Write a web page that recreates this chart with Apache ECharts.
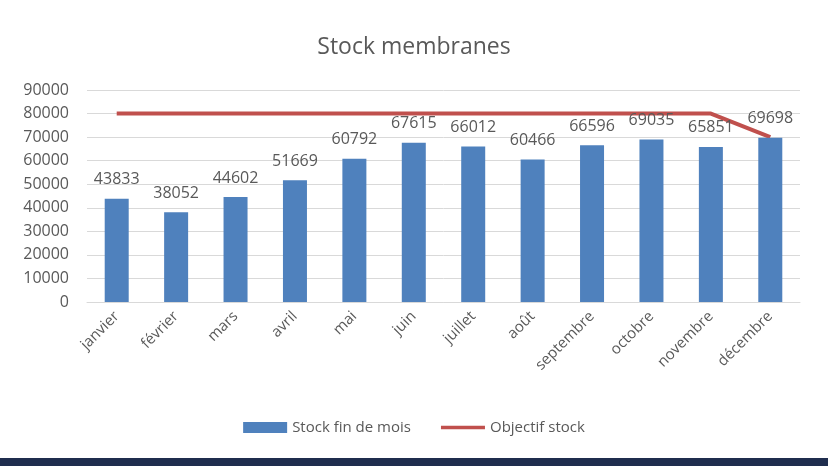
<!DOCTYPE html>
<html>
<head>
<meta charset="utf-8">
<script src="https://cdn.jsdelivr.net/npm/echarts@6/dist/echarts.min.js"></script>
<style>
  html, body { margin: 0; padding: 0; background: #fff; }
  #chart { width: 828px; height: 466px; }
</style>
</head>
<body>
<div id="chart"></div>
<script>
  // mois, stock fin de mois et objectif
  const months = ['janvier', 'février', 'mars', 'avril', 'mai', 'juin', 'juillet', 'août', 'septembre', 'octobre', 'novembre', 'décembre'];
  const stockFinMois = [43833, 38052, 44602, 51669, 60792, 67615, 66012, 60466, 66596, 69035, 65851, 69698];
  const objectifStock = [80000, 80000, 80000, 80000, 80000, 80000, 80000, 80000, 80000, 80000, 80000, 70000];

  const txt = '#595959';
  const font = 'Open Sans, sans-serif';

  let chart = echarts.init(document.getElementById('chart'));
  chart.setOption({
    animation: false,
    textStyle: { fontFamily: font },
    title: {
      text: 'Stock membranes',
      left: 'center',
      top: 31,
      textStyle: { color: txt, fontSize: 23, fontWeight: 'normal', fontFamily: font }
    },
    legend: {
      bottom: 26,
      left: 'center',
      itemGap: 30,
      itemWidth: 44,
      itemHeight: 11,
      textStyle: { color: txt, fontSize: 15 },
      data: [
        { name: 'Stock fin de mois', icon: 'rect' },
        { name: 'Objectif stock', icon: 'path://M0,4 L40,4 L40,7 L0,7 Z', itemStyle: { color: '#c0504d' } }
      ]
    },
    grid: { left: 87, right: 28, top: 90, bottom: 164 },
    xAxis: {
      type: 'category',
      data: months,
      axisTick: { show: false },
      axisLine: { lineStyle: { color: '#d9d9d9' } },
      axisLabel: { color: txt, fontSize: 15, rotate: 45, margin: 12, interval: 0 }
    },
    yAxis: {
      type: 'value',
      min: 0,
      max: 90000,
      interval: 10000,
      axisLine: { show: false },
      axisTick: { show: false },
      splitLine: { lineStyle: { color: '#d9d9d9' } },
      axisLabel: { color: txt, fontSize: 16, margin: 18, formatter: v => String(v) }
    },
    series: [
      {
        name: 'Stock fin de mois',
        type: 'bar',
        data: stockFinMois,
        barWidth: 24,
        itemStyle: { color: '#4f81bd' },
        label: { show: true, position: 'top', color: txt, fontSize: 16, distance: 11 }
      },
      {
        name: 'Objectif stock',
        type: 'line',
        data: objectifStock,
        symbol: 'none',
        lineStyle: { color: '#c0504d', width: 4 },
        itemStyle: { color: '#c0504d' },
        z: 1
      }
    ],
    graphic: [
      {
        type: 'rect',
        left: 0,
        bottom: 0,
        shape: { width: 828, height: 8 },
        style: { fill: '#1f2d4e' }
      }
    ]
  });
</script>
</body>
</html>
